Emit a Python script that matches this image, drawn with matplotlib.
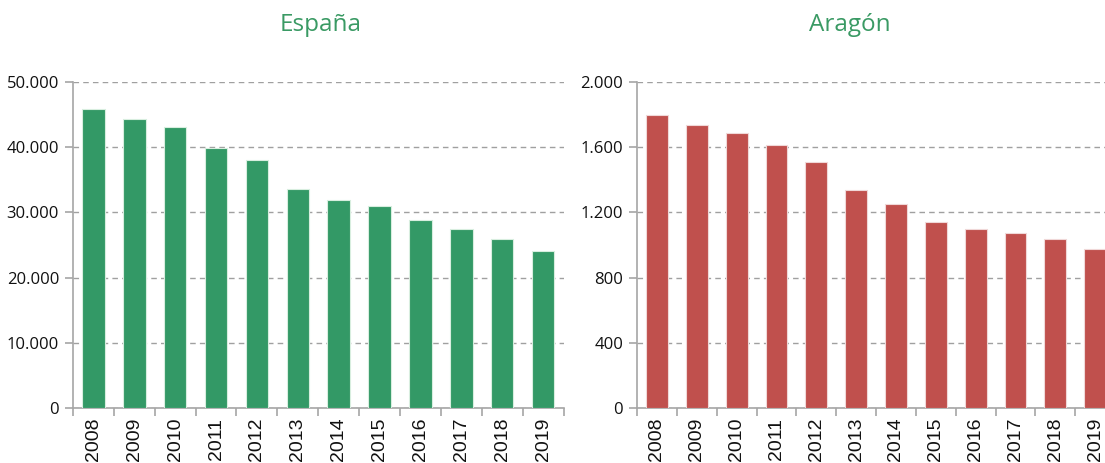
import matplotlib
matplotlib.use('Agg')
import matplotlib.pyplot as plt
from matplotlib.ticker import FuncFormatter, FixedLocator

# datos
years = ['2008', '2009', '2010', '2011', '2012', '2013',
         '2014', '2015', '2016', '2017', '2018', '2019']
espana = [45860, 44320, 43100, 39880, 38040, 33590,
          31900, 30980, 28830, 27450, 25920, 24080]
aragon = [1797, 1736, 1687, 1613, 1509, 1337,
          1251, 1141, 1098, 1074, 1037, 975]

GREEN = '#339966'
RED = '#c0504d'
TITLE_COLOR = '#3a9a64'


def miles(x, pos):
    return f'{int(x):,}'.replace(',', '.')


def draw_panel(ax, values, color, ymax, step):
    x = range(len(values))
    ax.bar(x, values, width=0.55, color=color, edgecolor='#f0d8d8' if color == RED else '#d8eedf',
           linewidth=0.8, zorder=3)
    ax.set_xlim(-0.5, len(values) - 0.5)
    ax.set_ylim(0, ymax)
    ax.set_yticks(range(0, ymax + 1, step))
    ax.yaxis.set_major_formatter(FuncFormatter(miles))
    ax.yaxis.grid(True, linestyle=(0, (4, 3)), color='#a0a0a0', linewidth=1.0, zorder=0)
    for s in ['top', 'right']:
        ax.spines[s].set_visible(False)
    for s in ['left', 'bottom']:
        ax.spines[s].set_color('#a6a6a6')
        ax.spines[s].set_linewidth(1.2)
    ax.set_xticks(list(x))
    ax.set_xticklabels(years, rotation=90, fontsize=14, family='Liberation Sans')
    ax.tick_params(axis='x', which='major', length=0, pad=7, labelcolor='#111111')
    ax.xaxis.set_minor_locator(FixedLocator([i + 0.5 for i in range(-1, len(values))]))
    ax.tick_params(axis='x', which='minor', length=6, color='#a6a6a6', width=1.2)
    ax.tick_params(axis='y', length=6, color='#a6a6a6', width=1.2, labelsize=12, pad=4,
                   labelcolor='#111111')
    for lab in ax.get_yticklabels():
        lab.set_family('Open Sans')


fig = plt.figure(figsize=(11.05, 4.63), dpi=100)
ax1 = fig.add_axes([0.066, 0.1188, 0.444, 0.704])
ax2 = fig.add_axes([0.5765, 0.1188, 0.4326, 0.704])

draw_panel(ax1, espana, GREEN, 50000, 10000)
draw_panel(ax2, aragon, RED, 2000, 400)

fig.text(321 / 1105, 1 - 25 / 463, 'España', ha='center', va='center',
         fontsize=17.5, color=TITLE_COLOR, family='Open Sans')
fig.text(850 / 1105, 1 - 25 / 463, 'Aragón', ha='center', va='center',
         fontsize=17.5, color=TITLE_COLOR, family='Open Sans')

fig.savefig('out.png', dpi=100)
